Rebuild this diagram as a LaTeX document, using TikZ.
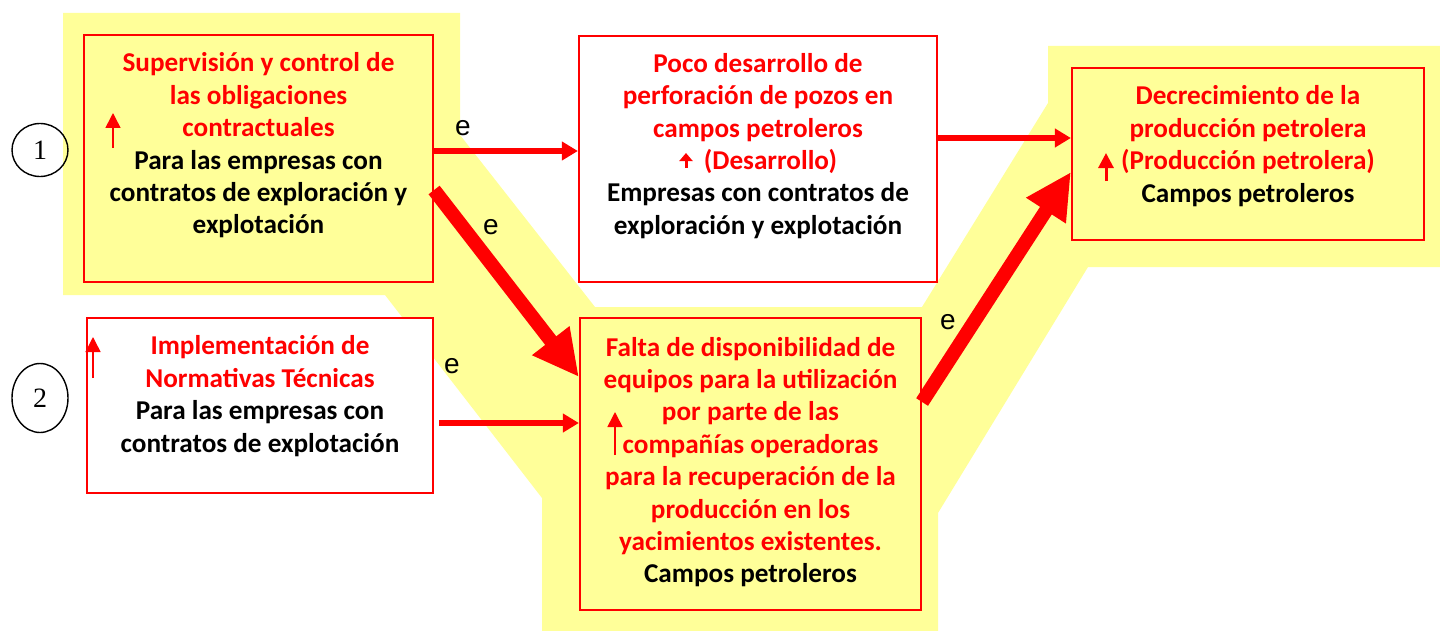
\documentclass[tikz,border=0pt]{standalone}
\usepackage{fontspec}
\setmainfont{Carlito}
\newfontfamily\efont{Liberation Sans}
\newfontfamily\numfont{Liberation Serif}
\usetikzlibrary{arrows.meta,shapes.geometric}
\definecolor{amarillo}{RGB}{255,255,153}
\definecolor{rojo}{RGB}{255,0,0}
\newcommand{\negro}[1]{\textcolor{black}{#1}}

\begin{document}
\begin{tikzpicture}[x=0.5pt, y=-0.5pt,
  caja/.style={draw=rojo, line width=1.1pt, inner sep=0pt},
  texto/.style={align=center, inner sep=0pt, text=rojo, font=\bfseries\fontsize{13.6}{16.2}\selectfont},
  flecha/.style={draw=rojo, line width=2.6pt, -{Triangle[length=8pt,width=9pt]}},
  gruesa/.style={draw=rojo, line width=7pt, -{Triangle[length=23pt,width=22pt]}},
  subida/.style={draw=rojo, line width=0.8pt, -{Triangle[length=7.5pt,width=7.5pt]}},
  etiq/.style={font=\efont\fontsize{14}{14}\selectfont},
  num/.style={draw, ellipse, line width=0.7pt, inner sep=0pt, font=\numfont\fontsize{14}{14}\selectfont}]

  \useasboundingbox (0,0) rectangle (1440,631);
  % fondo amarillo
  \fill[amarillo] (63,13) -- (460,13) -- (460,135) -- (595,307) -- (922,307) -- (1048,103)
    -- (1048,46) -- (1440,46) -- (1440,267) -- (1088,267) -- (938,513) -- (938,631)
    -- (542,631) -- (542,498) -- (385,295) -- (63,295) -- cycle;

  % cajas
  \node[caja, fill=amarillo, minimum width=174.5pt, minimum height=123.5pt] (sup) at (258.5,158.5) {};
  \node[caja, fill=white, minimum width=179pt, minimum height=123pt] (poco) at (758,159) {};
  \node[caja, fill=amarillo, minimum width=176pt, minimum height=86pt] (decr) at (1248,154) {};
  \node[caja, fill=amarillo, minimum width=170.5pt, minimum height=146pt] (falta) at (750.5,464) {};
  \node[caja, fill=white, minimum width=173pt, minimum height=87.5pt] (impl) at (260,405.5) {};

  % textos
  \node[texto] (supT) at (258.5,145.5) {Supervisión y control de\\las obligaciones\\contractuales\\
    \negro{Para las empresas con}\\\negro{contratos de exploración y}\\\negro{explotación}};
  \node[texto] (pocoT) at (758,145.8) {Poco desarrollo de\\perforación de pozos en\\campos petroleros\\
    \hspace*{12.5pt}(Desarrollo)\\\negro{Empresas con contratos de}\\\negro{exploración y explotación}};
  \node[texto] (decrT) at (1248,146) {Decrecimiento de la\\producción petrolera\\(Producción petrolera)\\
    \negro{Campos petroleros}};
  \node[texto] (faltaT) at (750.5,462) {Falta de disponibilidad de\\equipos para la utilización\\por parte de las\\
    compañías operadoras\\para la recuperación de la\\producción en los\\yacimientos existentes.\\
    \negro{Campos petroleros}};
  \node[texto] (implT) at (260,396) {Implementación de\\Normativas Técnicas\\
    \negro{Para las empresas con}\\\negro{contratos de explotación}};

  % numeros
  \node[num, minimum width=28pt, minimum height=26.5pt] (n1) at (40,150) {1};
  \node[num, minimum width=28pt, minimum height=34.5pt] (n2) at (40,398) {2};

  % flechas pequeñas
  \draw[subida] (113,148) -- (113,113);
  \draw[subida] (615,455) -- (615,412);
  \draw[subida] (93,378) -- (93,337);
  \draw[draw=rojo, line width=1.5pt, -{Triangle[length=7.5pt,width=7.5pt]}] (1106,181) -- (1106,153);
  \draw[draw=rojo, line width=1.5pt, -{Triangle[length=4pt,width=6.5pt]}] (686,168) -- (686,153);

  % relaciones
  \draw[flecha] (sup.east |- 0,151) -- (poco.west |- 0,151);
  \draw[flecha] (poco.east |- 0,138) -- (decr.west |- 0,138);
  \draw[gruesa] (sup.east |- 0,190) -- (falta.west |- 0,377);
  \draw[flecha] ([xshift=2.5pt]impl.east |- 0,423) -- (falta.west |- 0,423);
  \draw[gruesa] (falta.east |- 0,402) -- (decr.west |- 0,172);

  \node[etiq] (e1) at (463,128) {e};
  \node[etiq] (e2) at (491,227) {e};
  \node[etiq] (e3) at (452,366) {e};
  \node[etiq] (e4) at (948,322) {e};
\end{tikzpicture}
\end{document}
